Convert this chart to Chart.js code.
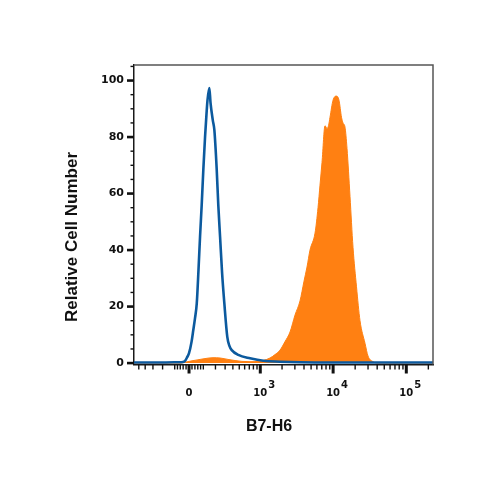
<!DOCTYPE html>
<html><head><meta charset="utf-8">
<script src="https://cdn.jsdelivr.net/npm/chart.js@4.4.1/dist/chart.umd.min.js"></script>
<style>html,body{margin:0;padding:0;background:#fff;}</style>
</head><body>
<canvas id="c" width="500" height="500"></canvas>
<script>
// ---- data (fluorescence intensity, relative cell number %) ----
const blueX = [-588, -225, -76, -41, -27, -13.5, 0, 17, 29, 41, 53, 65, 76, 88, 100, 113, 124, 132, 147, 157, 176, 190, 212, 227, 245, 266, 291, 326, 354, 384, 484, 717, 1103, 1876, 3527, 17013, 231600];
const blueY = [0.2, 0.2, 0.3, 0.4, 0.8, 2.0, 3.5, 7.5, 11.7, 16, 21.2, 33, 44.7, 56, 68.4, 80, 88, 93, 97.3, 92, 86, 82.5, 68.4, 56, 44.7, 32, 21.2, 9.3, 6, 4.6, 2.9, 1.7, 0.8, 0.5, 0.3, 0.2, 0.2];
const orangeX = [-588, -62, -27, 20, 76, 128, 178, 245, 335, 432, 549, 717, 930, 1092, 1365, 1601, 1876, 2197, 2574, 3013, 3527, 4001, 4397, 4833, 5659, 6218, 6620, 7050, 7749, 8252, 8650, 9069, 9967, 11126, 12038, 13023, 13652, 14539, 15482, 17013, 18696, 20875, 23300, 27273, 29971, 35077, 41040, 231600];
const orangeY = [0, 0, 0.3, 0.8, 1.3, 1.7, 1.9, 1.8, 1.3, 0.9, 0.6, 0.5, 0.6, 0.9, 1.8, 3.0, 4.6, 7.6, 11, 17, 22, 29, 34, 40, 46, 55, 63, 71, 84, 83, 84, 87, 93, 94.5, 93, 87, 85, 83.5, 76, 59, 41, 27, 15, 7, 2.5, 0.5, 0, 0];

// ---- axis ticks / labels ----
const xMajorTicks = [0, 1000, 10000, 100000];
const xMajorBase = ['0', '10', '10', '10'];
const xMajorExp = ['', '3', '4', '5'];
const xMinorTicks = [-500, -400, -300, -200, -100, -80, -60, -40, -20, 20, 40, 60, 80, 100, 200, 300, 400, 500, 600, 700, 800, 900,
  2000, 3000, 4000, 5000, 6000, 7000, 8000, 9000, 20000, 30000, 40000, 50000, 60000, 70000, 80000, 90000, 200000];
const yTicks = [0, 5, 10, 15, 20, 25, 30, 35, 40, 45, 50, 55, 60, 65, 70, 75, 80, 85, 90, 95, 100, 105];
const xTitle = 'B7-H6';
const yTitle = 'Relative Cell Number';

// ---- biexponential-like (arcsinh) scale ----
const COF = 215;
function T(v) { return Math.asinh(v / COF) / Math.LN10; }
function Tinv(t) { return COF * Math.sinh(t * Math.LN10); }
class BiexScale extends Chart.LinearScale {
  buildTicks() { return xMajorTicks.concat(xMinorTicks).sort((a, b) => a - b).map(v => ({ value: v })); }
  configure() { super.configure(); this._tA = T(this.min); this._tB = T(this.max); }
  getPixelForValue(v) { return this.getPixelForDecimal((T(v) - this._tA) / (this._tB - this._tA)); }
  getValueForPixel(p) { return Tinv(this._tA + this.getDecimalForPixel(p) * (this._tB - this._tA)); }
}
BiexScale.id = 'biex';
BiexScale.defaults = Chart.LinearScale.defaults;
Chart.register(BiexScale);

const axisDeco = {
  id: 'axisDeco',
  afterDraw(chart) {
    const { ctx, chartArea: a, scales: { x, y } } = chart;
    ctx.save();
    // top / right frame
    ctx.strokeStyle = '#555'; ctx.lineWidth = 1.5;
    ctx.beginPath(); ctx.moveTo(a.left, a.top); ctx.lineTo(a.right, a.top); ctx.lineTo(a.right, a.bottom); ctx.stroke();
    // y ticks
    ctx.strokeStyle = '#111';
    yTicks.forEach(v => {
      const p = y.getPixelForValue(v); const major = v % 20 === 0;
      ctx.lineWidth = major ? 2.6 : 1.4;
      ctx.beginPath(); ctx.moveTo(a.left - (major ? 7 : 3.5), p); ctx.lineTo(a.left, p); ctx.stroke();
    });
    // x ticks
    xMinorTicks.forEach(v => {
      const p = x.getPixelForValue(v);
      ctx.lineWidth = 1.4;
      ctx.beginPath(); ctx.moveTo(p, a.bottom); ctx.lineTo(p, a.bottom + 5); ctx.stroke();
    });
    xMajorTicks.forEach(v => {
      const p = x.getPixelForValue(v);
      ctx.lineWidth = 3;
      ctx.beginPath(); ctx.moveTo(p, a.bottom); ctx.lineTo(p, a.bottom + 9); ctx.stroke();
    });
    // x labels
    ctx.fillStyle = '#111';
    ctx.textBaseline = 'middle';
    xMajorTicks.forEach((v, i) => {
      const p = x.getPixelForValue(v);
      ctx.font = 'bold 10px "DejaVu Sans"';
      ctx.textAlign = 'center';
      ctx.fillText(xMajorBase[i], p, 393.5);
      if (xMajorExp[i]) {
        const w = ctx.measureText(xMajorBase[i]).width;
        ctx.font = 'bold 10px "DejaVu Sans"';
        ctx.textAlign = 'left';
        ctx.fillText(xMajorExp[i], p + w / 2 + 1, 385);
      }
    });
    // axis titles
    ctx.font = 'bold 16px "Liberation Sans"';
    ctx.textAlign = 'center';
    ctx.fillText(xTitle, 269, 427);
    ctx.translate(72, 237);
    ctx.rotate(-Math.PI / 2);
    ctx.font = 'bold 17px "Liberation Sans"';
    ctx.fillText(yTitle, 0, 0);
    ctx.restore();
  }
};

new Chart(document.getElementById('c'), {
  type: 'line',
  data: {
    datasets: [
      {
        label: 'Isotype', data: blueX.map((v, i) => ({ x: v, y: blueY[i] })),
        borderColor: '#0c5a9e', borderWidth: 2.6, pointRadius: 0, fill: false,
        cubicInterpolationMode: 'monotone'
      },
      {
        label: 'B7-H6', data: orangeX.map((v, i) => ({ x: v, y: orangeY[i] })),
        borderColor: '#ff8012', backgroundColor: '#ff8012', borderWidth: 1, pointRadius: 0, fill: 'origin',
        cubicInterpolationMode: 'monotone'
      }
    ]
  },
  options: {
    responsive: false, animation: false,
    layout: { padding: { top: 65, right: 67, left: 0, bottom: 0 } },
    plugins: { legend: { display: false }, tooltip: { enabled: false } },
    scales: {
      x: {
        type: 'biex', min: -588, max: 231600,
        grid: { display: false, drawTicks: false },
        border: { display: true, color: '#1a1a1a', width: 1.5 },
        ticks: { display: false },
        afterFit(s) { s.height = 135.5; }
      },
      y: {
        type: 'linear', min: -0.5, max: 105.5,
        grid: { display: false, drawTicks: false },
        border: { display: true, color: '#1a1a1a', width: 1.5 },
        ticks: {
          stepSize: 20, includeBounds: false, padding: 10, color: '#111',
          font: { family: 'DejaVu Sans', weight: 'bold', size: 11 },
          callback: v => (v % 20 === 0 ? String(v) : '')
        },
        afterFit(s) { s.width = 134; }
      }
    }
  },
  plugins: [axisDeco]
});
</script>
</body></html>
